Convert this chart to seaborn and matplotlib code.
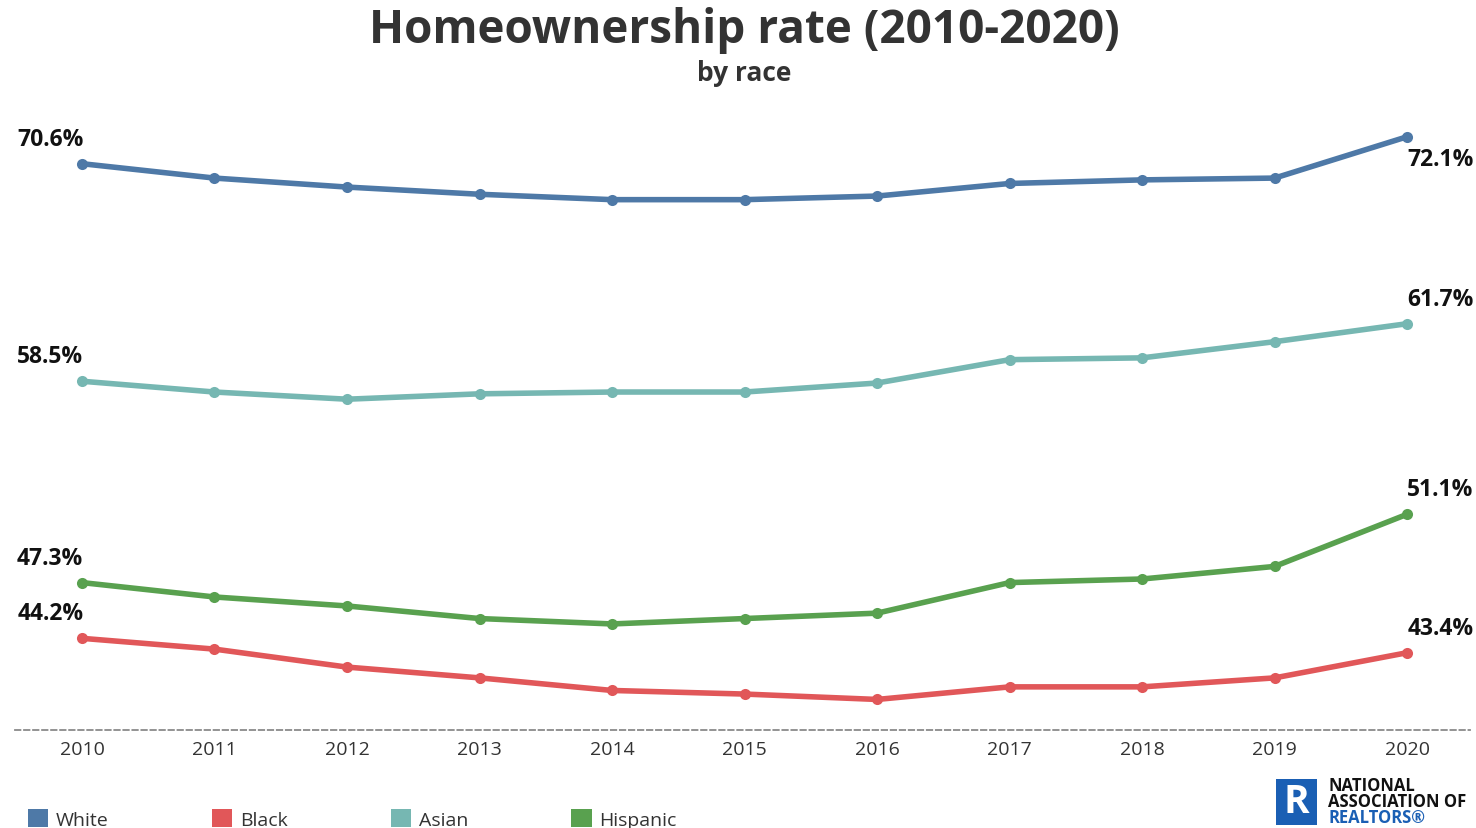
import pandas as pd
import seaborn as sns
import matplotlib.pyplot as plt
from matplotlib.patches import Patch, Rectangle

years = list(range(2010, 2021))
white = [70.6, 69.8, 69.3, 68.9, 68.6, 68.6, 68.8, 69.5, 69.7, 69.8, 72.1]
asian = [58.5, 57.9, 57.5, 57.8, 57.9, 57.9, 58.4, 59.7, 59.8, 60.7, 61.7]
hispanic = [47.3, 46.5, 46.0, 45.3, 45.0, 45.3, 45.6, 47.3, 47.5, 48.2, 51.1]
black = [44.2, 43.6, 42.6, 42.0, 41.3, 41.1, 40.8, 41.5, 41.5, 42.0, 43.4]

races = ['White', 'Black', 'Asian', 'Hispanic']
colors = {'White': '#4e79a7', 'Black': '#e15759', 'Asian': '#76b7b2', 'Hispanic': '#59a14f'}

series = {'White': white, 'Black': black, 'Asian': asian, 'Hispanic': hispanic}
df = pd.concat([pd.DataFrame({'year': years, 'rate': v, 'race': k}) for k, v in series.items()])

sns.set_style('white')
plt.rcParams['font.family'] = ['Open Sans', 'DejaVu Sans']

fig = plt.figure(figsize=(14.76, 8.29), dpi=100)
ax = fig.add_axes([0.0102, 0.1182, 0.9858, 0.7612])

sns.lineplot(data=df, x='year', y='rate', hue='race', hue_order=races, palette=colors,
             marker='o', markersize=8, markeredgewidth=0, linewidth=4, ax=ax, legend=False)

ax.set_xlim(2009.495, 2020.475)
ax.set_ylim(39.1, 74.2)
ax.set_xticks(years)
ax.set_xticklabels([str(y) for y in years], fontsize=14, color='#333333')
ax.set_yticks([])
ax.set_xlabel('')
ax.set_ylabel('')
ax.tick_params(axis='x', length=0, pad=7)
for s in ['top', 'left', 'right']:
    ax.spines[s].set_visible(False)
ax.spines['bottom'].set_linestyle((0, (3, 2)))
ax.spines['bottom'].set_color('#8a8a8a')
ax.spines['bottom'].set_linewidth(1.3)

# start / end labels
end_offsets = {'White': -22, 'Black': 25, 'Asian': 25, 'Hispanic': 25}
for race, vals in series.items():
    ax.annotate(f'{vals[0]}%', (years[0], vals[0]), xytext=(1, 18), textcoords='offset points',
                ha='right', va='center', fontsize=16.5, fontweight='bold', color='#111111')
    ax.annotate(f'{vals[-1]}%', (years[-1], vals[-1]), xytext=(0, end_offsets[race] * 0.72),
                textcoords='offset points', ha='left', va='center', fontsize=16.5,
                fontweight='bold', color='#111111')

fig.text(0.504, 0.963, 'Homeownership rate (2010-2020)', ha='center', va='center',
         fontsize=33, fontweight='bold', color='#333333')
fig.text(0.504, 0.911, 'by race', ha='center', va='center',
         fontsize=19, fontweight='bold', color='#333333')

handles = [Patch(facecolor=colors[r], edgecolor='none', label=r) for r in races]
fig.legend(handles=handles, loc='lower left', bbox_to_anchor=(0.0068, -0.022), ncol=4,
           frameon=False, fontsize=14, handlelength=1.05, handleheight=1.05,
           handletextpad=0.4, columnspacing=5.3, labelcolor='#333333')

# NAR logo
fig.patches.append(Rectangle((1276 / 1476, 1 - 826 / 829), 41 / 1476, 46 / 829,
                             transform=fig.transFigure, facecolor='#1a5fb4', edgecolor='none'))
fig.text(1296.5 / 1476, 1 - 803 / 829, 'R', ha='center', va='center', fontsize=28,
         fontweight='bold', color='white')
for i, (t, c) in enumerate([('NATIONAL', '#111111'), ('ASSOCIATION OF', '#111111'),
                            ('REALTORS®', '#1a5fb4')]):
    fig.text(1328 / 1476, 1 - (786 + 16 * i) / 829, t, ha='left', va='center',
             fontsize=12, fontweight='bold', color=c)

fig.savefig('out.png', dpi=100)
